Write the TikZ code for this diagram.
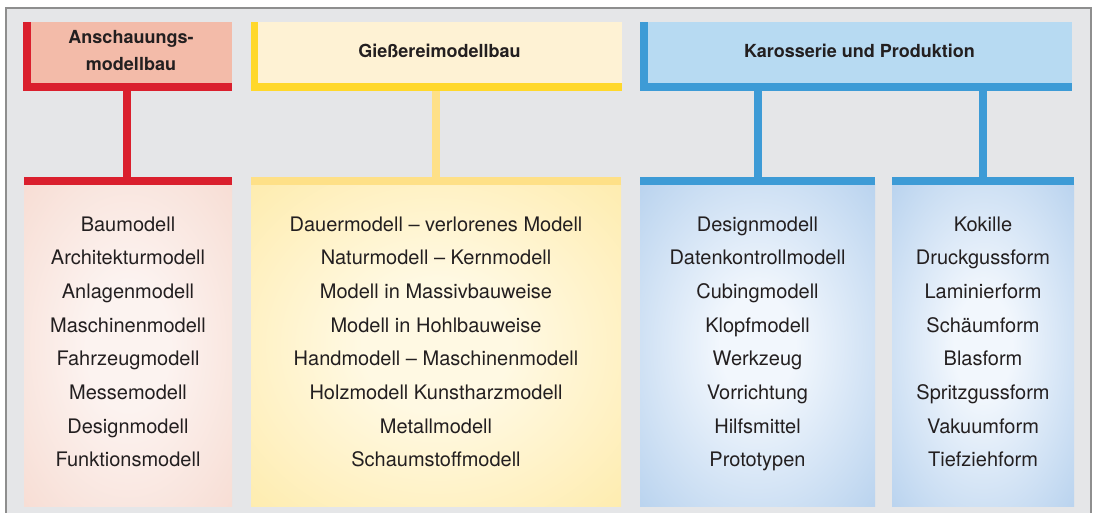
\documentclass[tikz,border=0pt]{standalone}
\usepackage{fontspec}
\setmainfont{TeX Gyre Heros}
\definecolor{bgc}{HTML}{E5E6E8}
\definecolor{framec}{HTML}{8E8E8E}
\definecolor{txt}{HTML}{231F20}
\definecolor{redbar}{HTML}{DA1F2D}
\definecolor{redhead}{HTML}{F3BBA9}
\definecolor{redbody}{HTML}{F5D3C7}
\definecolor{redin}{HTML}{FCF3F0}
\definecolor{yelbar}{HTML}{FFD82B}
\definecolor{yelhead}{HTML}{FEF2D4}
\definecolor{yelline}{HTML}{FEE087}
\definecolor{yelbody}{HTML}{FEE696}
\definecolor{yelin}{HTML}{FFF9E3}
\definecolor{blubar}{HTML}{3D9BD6}
\definecolor{bluhead}{HTML}{B7DAF2}
\definecolor{blubody}{HTML}{A0C3E8}
\definecolor{bluin}{HTML}{F2F7FD}
\pgfdeclareradialshading{glowred}{\pgfpoint{0bp}{0bp}}{color(0bp)=(redin); color(10bp)=(redin); color(48bp)=(redbody); color(50bp)=(redbody)}
\pgfdeclareradialshading{glowyel}{\pgfpoint{0bp}{0bp}}{color(0bp)=(yelin); color(10bp)=(yelin); color(48bp)=(yelbody); color(50bp)=(yelbody)}
\pgfdeclareradialshading{glowblu}{\pgfpoint{0bp}{0bp}}{color(0bp)=(bluin); color(8bp)=(bluin); color(48bp)=(blubody); color(50bp)=(blubody)}
\begin{document}
\begin{tikzpicture}[x=1pt,y=-1pt,
  boxnode/.style={anchor=north west, inner sep=0pt, outer sep=0pt},
  hdrtext/.style={font=\fontsize{18}{22}\selectfont\bfseries, text=txt, anchor=base},
  item/.style={font=\fontsize{20}{24}\selectfont, text=txt, anchor=base}]
\useasboundingbox (0,0) rectangle (1097,513);
\fill[white] (0,0) rectangle (1097,513);
\fill[bgc] (6,8) rectangle (1091,520);
\draw[framec, line width=2.5pt] (6,520) -- (6,8) -- (1091,8) -- (1091,520);

% ---------- headers ----------
\node[boxnode, fill=redbar, minimum width=209pt, minimum height=69pt] (hA) at (23,22) {};
\fill[redhead] ([xshift=8pt]hA.north west) rectangle ([yshift=8pt]hA.south east);
\node[hdrtext] (tA1) at (131,43.5) {Anschauungs-};
\node[hdrtext] (tA2) at (131,70.8) {modellbau};

\node[boxnode, fill=yelbar, minimum width=371pt, minimum height=69pt] (hB) at (251,22) {};
\fill[yelhead] ([xshift=7pt]hB.north west) rectangle ([yshift=8pt]hB.south east);
\node[hdrtext] (tB) at (439.5,57.3) {Gießereimodellbau};

\node[boxnode, fill=blubar, minimum width=432pt, minimum height=69pt] (hC) at (640,22) {};
\fill[bluhead] ([xshift=8pt]hC.north west) rectangle ([yshift=8pt]hC.south east);
\node[hdrtext] (tC) at (859.5,57.3) {Karosserie und Produktion};

% ---------- bodies ----------
\node[boxnode, fill=redbody, minimum width=208pt, minimum height=329pt] (bA) at (24,177) {};
\shade[shading=glowred] (bA.south west) rectangle ([yshift=-8pt]bA.north east);
\fill[redbar] (bA.north west) rectangle ([yshift=-8pt]bA.north east);

\node[boxnode, fill=yelbody, minimum width=370pt, minimum height=329pt] (bB) at (251,177) {};
\shade[shading=glowyel] (bB.south west) rectangle ([yshift=-8pt]bB.north east);
\fill[yelline] (bB.north west) rectangle ([yshift=-8pt]bB.north east);

\node[boxnode, fill=blubody, minimum width=235pt, minimum height=329pt] (bC) at (640,177) {};
\shade[shading=glowblu] (bC.south west) rectangle ([yshift=-8pt]bC.north east);
\fill[blubar] (bC.north west) rectangle ([yshift=-8pt]bC.north east);

\node[boxnode, fill=blubody, minimum width=182pt, minimum height=329pt] (bD) at (892,177) {};
\shade[shading=glowblu] (bD.south west) rectangle ([yshift=-8pt]bD.north east);
\fill[blubar] (bD.north west) rectangle ([yshift=-8pt]bD.north east);

% ---------- connectors ----------
\draw[redbar, line width=8pt] ([xshift=-0.5pt]hA.south) -- ([xshift=-0.5pt]hA.south |- bA.north);
\draw[yelline, line width=8pt] ([xshift=-0.5pt]hB.south) -- ([xshift=-0.5pt]hB.south |- bB.north);
\draw[blubar, line width=8pt] (bC.north |- hC.south) -- (bC.north);
\draw[blubar, line width=8pt] (bD.north |- hC.south) -- (bD.north);

% ---------- items ----------
\foreach \t [count=\i from 0] in {Baumodell,Architekturmodell,Anlagenmodell,Maschinenmodell,Fahrzeugmodell,Messemodell,Designmodell,Funktionsmodell}
  \node[item] (a\i) at (128,231+33.7*\i) {\t};
\foreach \t [count=\i from 0] in {Dauermodell – verlorenes Modell,Naturmodell – Kernmodell,Modell in Massivbauweise,Modell in Hohlbauweise,Handmodell – Maschinenmodell,Holzmodell Kunstharzmodell,Metallmodell,Schaumstoffmodell}
  \node[item] (y\i) at (436,231+33.7*\i) {\t};
\foreach \t [count=\i from 0] in {Designmodell,Datenkontrollmodell,Cubingmodell,Klopfmodell,Werkzeug,Vorrichtung,Hilfsmittel,Prototypen}
  \node[item] (c\i) at (757.5,231+33.7*\i) {\t};
\foreach \t [count=\i from 0] in {Kokille,Druckgussform,Laminierform,Schäumform,Blasform,Spritzgussform,Vakuumform,Tiefziehform}
  \node[item] (d\i) at (983,231+33.7*\i) {\t};
\end{tikzpicture}
\end{document}
